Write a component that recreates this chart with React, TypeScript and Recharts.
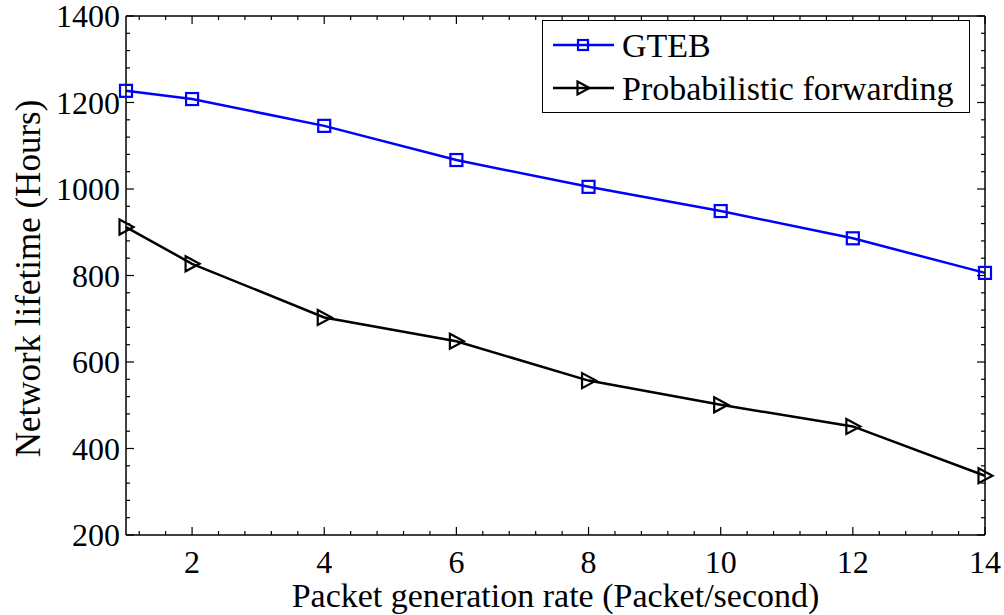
import { LineChart, Line, XAxis, YAxis, Legend, Label } from 'recharts';

const FONT = '"Liberation Serif", "Times New Roman", serif';
const BLUE = '#0000ff';

// packet generation rate (packet/second)
const rates = [1, 2, 4, 6, 8, 10, 12, 14];
// network lifetime in hours
const gteb = [1227, 1208, 1146, 1067, 1005, 949, 886, 806];
const probForwarding = [912, 827, 703, 648, 557, 501, 451, 337];

const xTicks = [2, 4, 6, 8, 10, 12, 14];
const yTicks = [200, 400, 600, 800, 1000, 1200, 1400];

// minor tick marks: 0.4 apart on x, 40 apart on y
const step = (from: number, to: number, by: number) => {
  const out: number[] = [];
  for (let v = from; v <= to + 1e-9; v += by) out.push(+v.toFixed(2));
  return out;
};
const xAllTicks = step(1.2, 14, 0.4);
const yAllTicks = step(200, 1400, 40);

const data = rates.map((r, i) => ({ rate: r, gteb: gteb[i], prob: probForwarding[i] }));

// chart box
const W = 1004;
const H = 615;
const M = { top: 16, right: 19, bottom: 0, left: 0 };
const X_AXIS_H = 80;
const Y_AXIS_W = 126;
const PLOT_TOP = M.top;
const PLOT_BOTTOM = H - M.bottom - X_AXIS_H;
const PLOT_LEFT = M.left + Y_AXIS_W;
const PLOT_RIGHT = W - M.right;
const MAJOR = 8;
const MINOR = 4;

const Square = ({ cx, cy, size = 12 }: { cx?: number; cy?: number; size?: number }) =>
  cx == null || cy == null ? null : (
    <rect x={cx - size / 2} y={cy - size / 2} width={size} height={size} fill="none" stroke={BLUE} strokeWidth={2.2} />
  );

const Triangle = ({ cx, cy, w = 13, h = 15 }: { cx?: number; cy?: number; w?: number; h?: number }) =>
  cx == null || cy == null ? null : (
    <polygon
      points={`${cx - w / 2},${cy - h / 2} ${cx + w / 2 + 1},${cy} ${cx - w / 2},${cy + h / 2}`}
      fill="none" stroke="#000" strokeWidth={2.2} strokeLinejoin="miter"
    />
  );

// x tick: inward marks at bottom and top edges, label for majors only
const XTick = ({ x, y, payload }: any) => {
  const major = xTicks.includes(payload.value);
  const len = major ? MAJOR : MINOR;
  return (
    <g>
      <line x1={x} x2={x} y1={PLOT_BOTTOM} y2={PLOT_BOTTOM - len} stroke="#000" strokeWidth={1.2} />
      <line x1={x} x2={x} y1={PLOT_TOP} y2={PLOT_TOP + len} stroke="#000" strokeWidth={1.2} />
      {major && (
        <text x={x} y={y} dy="0.71em" textAnchor="middle" fontFamily={FONT} fontSize={32} fill="#000">{payload.value}</text>
      )}
    </g>
  );
};

// y tick: inward marks at left and right edges
const YTick = ({ x, y, payload }: any) => {
  const major = yTicks.includes(payload.value);
  const len = major ? MAJOR : MINOR;
  return (
    <g>
      <line x1={PLOT_LEFT} x2={PLOT_LEFT + len} y1={y} y2={y} stroke="#000" strokeWidth={1.2} />
      <line x1={PLOT_RIGHT} x2={PLOT_RIGHT - len} y1={y} y2={y} stroke="#000" strokeWidth={1.2} />
      {major && (
        <text x={x} y={y} dy="0.35em" textAnchor="end" fontFamily={FONT} fontSize={32} fill="#000">{payload.value}</text>
      )}
    </g>
  );
};

const LegendBox = () => (
  <div style={{ border: '1px solid #000', background: '#fff', width: 428, height: 93, boxSizing: 'border-box' }}>
    <svg width={426} height={91} style={{ display: 'block' }}>
      <line x1={10} x2={71} y1={24} y2={24} stroke={BLUE} strokeWidth={2.5} />
      <Square cx={40} cy={24} size={10} />
      <text x={79} y={24} dominantBaseline="central" fontFamily={FONT} fontSize={34}>GTEB</text>
      <line x1={10} x2={71} y1={67} y2={67} stroke="#000" strokeWidth={2.5} />
      <Triangle cx={40} cy={67} w={11} h={13} />
      <text x={79} y={67} dominantBaseline="central" fontFamily={FONT} fontSize={34}>Probabilistic forwarding</text>
    </svg>
  </div>
);

export default function App() {
  return (
    <div style={{ width: W, height: H, background: '#fff' }}>
      <style>{`body{margin:0}`}</style>
      <LineChart width={W} height={H} data={data} margin={M}>
        <XAxis dataKey="rate" type="number" domain={[1, 14]} ticks={xAllTicks} interval={0}
          tickSize={0} tickMargin={15} height={X_AXIS_H} tick={XTick} tickLine={false}
          axisLine={{ stroke: '#000', strokeWidth: 1.5 }}>
          <Label position="insideBottom" offset={8}
            style={{ fontFamily: FONT, fontSize: 34, fill: '#000' }}
            value="Packet generation rate (Packet/second)" />
        </XAxis>
        <YAxis type="number" domain={[200, 1400]} ticks={yAllTicks} interval={0}
          tickSize={0} tickMargin={6} width={Y_AXIS_W} tick={YTick} tickLine={false}
          axisLine={{ stroke: '#000', strokeWidth: 1.5 }}
          label={({ viewBox }: any) => (
            <text x={0} y={0} transform={`translate(${(viewBox?.x ?? 0) + 28},${(viewBox?.y ?? 0) + (viewBox?.height ?? 0) / 2 + 3}) rotate(-90)`}
              textAnchor="middle" dominantBaseline="central" fontFamily={FONT} fontSize={35} fill="#000">
              Network lifetime (Hours)
            </text>
          )} />

        {/* top and right frame lines */}
        <XAxis xAxisId="top" orientation="top" type="number" domain={[1, 14]} mirror tick={false} tickLine={false} axisLine={{ stroke: '#000', strokeWidth: 1.5 }} />
        <YAxis yAxisId="right" orientation="right" type="number" domain={[200, 1400]} mirror tick={false} tickLine={false} axisLine={{ stroke: '#000', strokeWidth: 1.5 }} />

        <Line type="linear" dataKey="gteb" name="GTEB" stroke={BLUE} strokeWidth={2.5}
          dot={(p: any) => <Square key={`g${p.index}`} cx={p.cx} cy={p.cy} />} isAnimationActive={false} />
        <Line type="linear" dataKey="prob" name="Probabilistic forwarding" stroke="#000" strokeWidth={2.5}
          dot={(p: any) => <Triangle key={`p${p.index}`} cx={p.cx} cy={p.cy} />} isAnimationActive={false} />

        <Legend layout="vertical" align="center" verticalAlign="middle"
          wrapperStyle={{ left: 542, top: 20, width: 428 }} content={() => <LegendBox />} />
      </LineChart>
    </div>
  );
}
